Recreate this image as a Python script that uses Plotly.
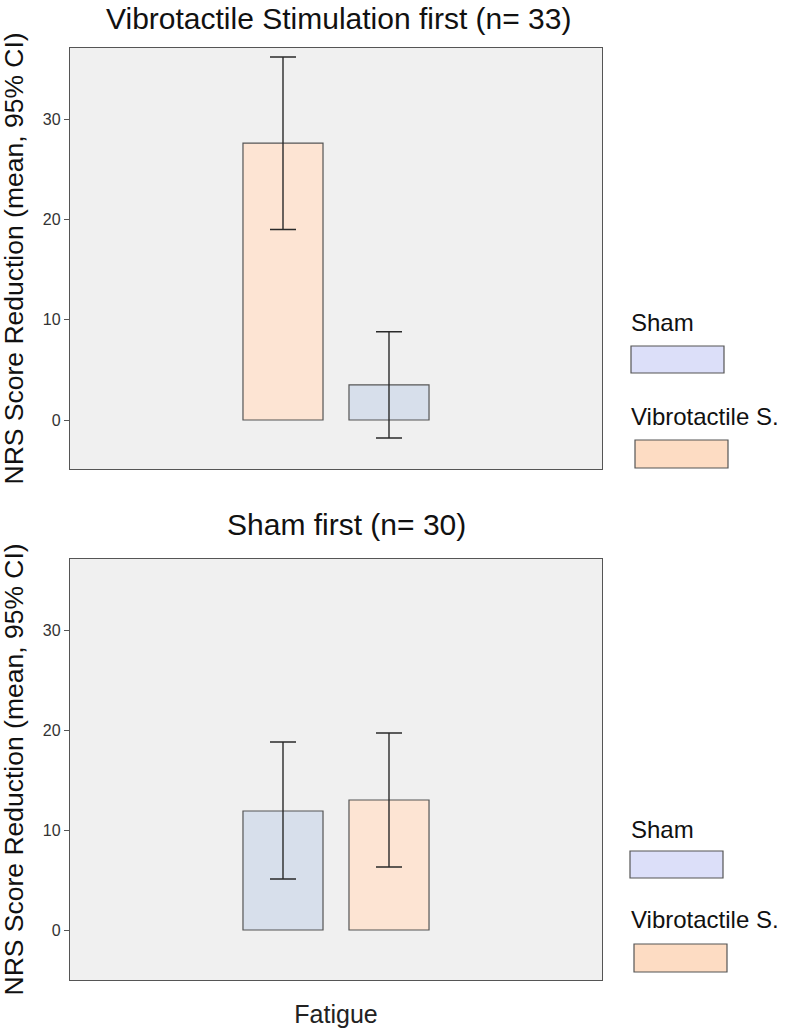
import plotly.graph_objects as go

# ---------------- data ----------------
category = ["Fatigue"]
groups = ["Sham", "Vibrotactile S."]

panel_titles = ["Vibrotactile Stimulation first (n= 33)", "Sham first (n= 30)"]

# Panel 1: Vibrotactile Stimulation first
p1_order = ["Vibrotactile S.", "Sham"]
p1_mean = {"Vibrotactile S.": 27.6, "Sham": 3.5}
p1_ci_low = {"Vibrotactile S.": 19.0, "Sham": -1.8}
p1_ci_high = {"Vibrotactile S.": 36.2, "Sham": 8.8}

# Panel 2: Sham first
p2_order = ["Sham", "Vibrotactile S."]
p2_mean = {"Sham": 11.9, "Vibrotactile S.": 13.0}
p2_ci_low = {"Sham": 5.1, "Vibrotactile S.": 6.3}
p2_ci_high = {"Sham": 18.8, "Vibrotactile S.": 19.7}

y_ticks = [0, 10, 20, 30]
y_title = "NRS Score Reduction (mean, 95% CI)"

# ---------------- styles ----------------
bar_colors = {"Sham": "#D7DFEB", "Vibrotactile S.": "#FDE4D3"}
legend_colors = {"Sham": "#DCDFF9", "Vibrotactile S.": "#FDDCC3"}
FONT = "Liberation Sans, Arial, sans-serif"
W, H = 787, 1028


def px(x):
    return x / W


def py(y):
    return 1 - y / H


fig = go.Figure()


def add_panel(order, mean, lo, hi, xa, ya):
    for g in order:
        fig.add_trace(go.Bar(
            x=category, y=[mean[g]], name=g, showlegend=False,
            xaxis=xa, yaxis=ya,
            marker=dict(color=bar_colors[g], line=dict(color="#555555", width=1.2)),
            error_y=dict(type="data", symmetric=False,
                         array=[hi[g] - mean[g]], arrayminus=[mean[g] - lo[g]],
                         color="#2a2a2a", thickness=1.4, width=13),
        ))


add_panel(p1_order, p1_mean, p1_ci_low, p1_ci_high, "x", "y")
add_panel(p2_order, p2_mean, p2_ci_low, p2_ci_high, "x2", "y2")

xdom = [px(70), px(602)]
ydom1 = [py(469), py(48)]
ydom2 = [py(980), py(559)]

axis_common = dict(showline=True, linecolor="#555555", linewidth=1.3, mirror=True,
                   showgrid=False, zeroline=False)

fig.update_layout(
    width=W, height=H, autosize=False,
    margin=dict(l=0, r=0, t=0, b=0),
    paper_bgcolor="white", plot_bgcolor="#F0F0F0",
    barmode="group", bargap=0.6015, bargroupgap=0.245,
    font=dict(family=FONT, color="#222222"),
    xaxis=dict(domain=xdom, anchor="y", range=[-0.5, 0.5], showticklabels=False,
               ticks="", **axis_common),
    yaxis=dict(domain=ydom1, anchor="x", range=[-4.885, 37.09], tickvals=y_ticks,
               ticks="outside", ticklen=5, tickcolor="#555555",
               tickfont=dict(size=16, color="#333333"), **axis_common),
    xaxis2=dict(domain=xdom, anchor="y2", range=[-0.5, 0.5], showticklabels=True,
                ticks="", tickfont=dict(size=25, color="#222222"),
                ticklabelstandoff=12, **axis_common),
    yaxis2=dict(domain=ydom2, anchor="x2", range=[-5.0, 37.1], tickvals=y_ticks,
                ticks="outside", ticklen=5, tickcolor="#555555",
                tickfont=dict(size=16, color="#333333"), **axis_common),
)

annotations = []
# panel titles
annotations.append(dict(text=panel_titles[0], x=px(338), y=py(18), xref="paper", yref="paper",
                        showarrow=False, xanchor="center", yanchor="middle",
                        font=dict(size=30, family=FONT, color="#111111")))
annotations.append(dict(text=panel_titles[1], x=px(346), y=py(524), xref="paper", yref="paper",
                        showarrow=False, xanchor="center", yanchor="middle",
                        font=dict(size=30, family=FONT, color="#111111")))
# y axis titles
for yc in [(48 + 469) / 2, (559 + 980) / 2]:
    annotations.append(dict(text=y_title, x=px(13), y=py(yc), xref="paper", yref="paper",
                            showarrow=False, textangle=-90, xanchor="center", yanchor="middle",
                            font=dict(size=26.5, family=FONT, color="#111111")))

# custom legends (label above swatch)
shapes = []
legend_layout = [
    # (label_y_center, rect_x0, rect_x1, rect_y0, rect_y1)
    [(322, 631, 724, 346, 373), (416, 635, 728, 440, 468)],
    [(829, 630, 723, 851, 878), (919, 634, 727, 944, 972)],
]
for panel in legend_layout:
    for g, (ty, rx0, rx1, ry0, ry1) in zip(groups, panel):
        annotations.append(dict(text=g, x=px(629), y=py(ty), xref="paper", yref="paper",
                                showarrow=False, xanchor="left", yanchor="middle",
                                font=dict(size=24, family=FONT, color="#111111")))
        shapes.append(dict(type="rect", xref="paper", yref="paper",
                           x0=px(rx0), x1=px(rx1), y0=py(ry1), y1=py(ry0),
                           fillcolor=legend_colors[g], line=dict(color="#555555", width=1.2)))

fig.update_layout(annotations=annotations, shapes=shapes)

fig.write_html(
    "out.html",
    config={"displayModeBar": False},
    post_script="document.body.style.margin='0px';document.body.style.overflow='hidden';",
)
